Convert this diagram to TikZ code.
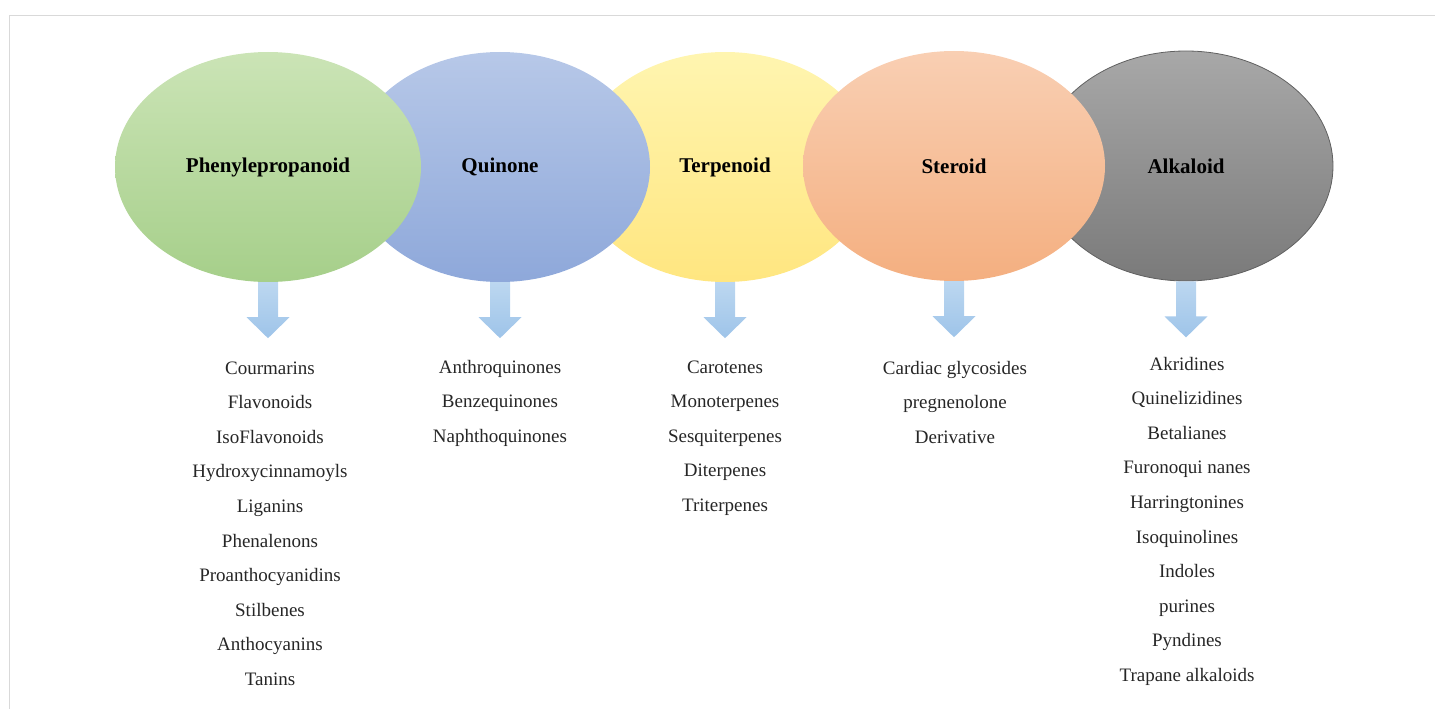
\documentclass[tikz,border=0pt]{standalone}
\usepackage{fontspec}
\setmainfont{Liberation Serif}
\usetikzlibrary{shapes.geometric}
\definecolor{framecol}{HTML}{D9D9D9}
\definecolor{grnT}{HTML}{CBE4B6}
\definecolor{grnB}{HTML}{A6CF8A}
\definecolor{bluT}{HTML}{B7C8E8}
\definecolor{bluB}{HTML}{8EA8DA}
\definecolor{yelT}{HTML}{FFF5B0}
\definecolor{yelB}{HTML}{FFE680}
\definecolor{orgT}{HTML}{F9CFB3}
\definecolor{orgB}{HTML}{F4AF80}
\definecolor{gryT}{HTML}{A8A8A8}
\definecolor{gryB}{HTML}{7A7A7A}
\definecolor{gryD}{HTML}{606060}
\definecolor{arrT}{HTML}{BCD7F0}
\definecolor{arrB}{HTML}{9EC4E9}
\definecolor{txtcol}{HTML}{262626}
\begin{document}
\begin{tikzpicture}[x=1pt,y=-1pt,
  blob/.style={ellipse, inner sep=0pt, minimum height=230pt,
    font=\fontsize{21}{25}\selectfont\bfseries, text=black},
  item/.style={anchor=base, inner sep=0pt, text=txtcol,
    font=\fontsize{19}{22}\selectfont},
  blockarrow/.style={top color=arrT, bottom color=arrB, draw=none}]
\useasboundingbox (0,0) rectangle (1435,709);
\draw[framecol, line width=1.5pt] (9.5,709) -- (9.5,15.5) -- (1435,15.5);

\node[blob, minimum width=300pt, top color=yelT, bottom color=yelB] (terp) at (725,167) {Terpenoid};
\node[blob, minimum width=294pt, top color=gryT, bottom color=gryB, draw=gryD, line width=0.8pt] (alk) at (1186,166) {Alkaloid};
\node[blob, minimum width=300pt, top color=bluT, bottom color=bluB] (quin) at (500,167) {Quinone};
\node[blob, minimum width=302pt, top color=orgT, bottom color=orgB] (ster) at (954,166) {Steroid};
\node[blob, minimum width=306pt, top color=grnT, bottom color=grnB] (phen) at (268,167) {Phenylepropanoid};

\foreach \n in {phen,quin,terp,ster,alk}
  \shade[blockarrow] (\n.south) ++(-10,0) -- ++(0,35) -- ++(-11.5,0) -- ++(21.5,21)
     -- ++(21.5,-21) -- ++(-11.5,0) -- ++(0,-35) -- cycle;

\foreach \t [count=\i] in {Courmarins,Flavonoids,IsoFlavonoids,Hydroxycinnamoyls,Liganins,Phenalenons,Proanthocyanidins,Stilbenes,Anthocyanins,Tanins}
  \node[item] (p\i) at (270,{374+34.6*(\i-1)}) {\t};
\foreach \t [count=\i] in {Anthroquinones,Benzequinones,Naphthoquinones}
  \node[item] (q\i) at (500,{373+34.6*(\i-1)}) {\t};
\foreach \t [count=\i] in {Carotenes,Monoterpenes,Sesquiterpenes,Diterpenes,Triterpenes}
  \node[item] (t\i) at (725,{373+34.6*(\i-1)}) {\t};
\foreach \t [count=\i] in {Cardiac glycosides,pregnenolone,Derivative}
  \node[item] (s\i) at (955,{374+34.6*(\i-1)}) {\t};
\foreach \t [count=\i] in {Akridines,Quinelizidines,Betalianes,Furonoqui nanes,Harringtonines,Isoquinolines,Indoles,purines,Pyndines,Trapane alkaloids}
  \node[item] (a\i) at (1187,{370+34.6*(\i-1)}) {\t};
\end{tikzpicture}
\end{document}
